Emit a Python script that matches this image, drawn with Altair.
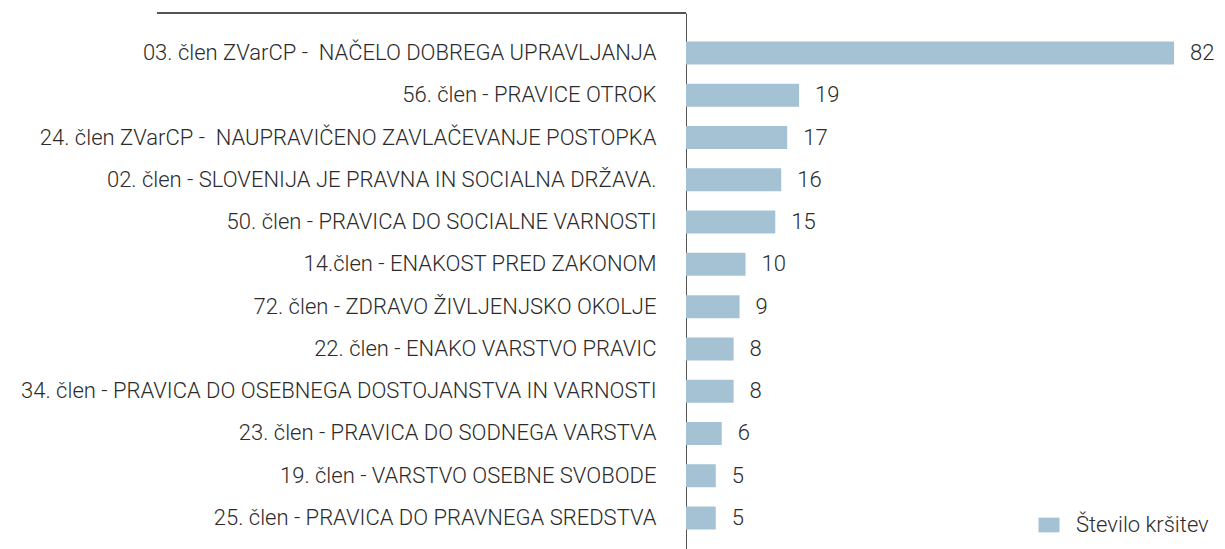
import altair as alt
import pandas as pd

categories = [
    "03. člen ZVarCP - \u00a0NAČELO DOBREGA UPRAVLJANJA",
    "56. člen - PRAVICE OTROK",
    "24. člen ZVarCP - \u00a0NAUPRAVIČENO ZAVLAČEVANJE POSTOPKA",
    "02. člen - SLOVENIJA JE PRAVNA IN SOCIALNA DRŽAVA.",
    "50. člen - PRAVICA DO SOCIALNE VARNOSTI",
    "14.člen - ENAKOST PRED ZAKONOM",
    "72. člen - ZDRAVO ŽIVLJENJSKO OKOLJE",
    "22. člen - ENAKO VARSTVO PRAVIC",
    "34. člen - PRAVICA DO OSEBNEGA DOSTOJANSTVA IN VARNOSTI",
    "23. člen - PRAVICA DO SODNEGA VARSTVA",
    "19. člen - VARSTVO OSEBNE SVOBODE",
    "25. člen - PRAVICA DO PRAVNEGA SREDSTVA",
]
values = [82, 19, 17, 16, 15, 10, 9, 8, 8, 6, 5, 5]
series_name = "Število kršitev"

df = pd.DataFrame({"label": categories, "value": values, "series": series_name})

FONT = "Roboto"
FS = 22
FW = 300
BAR = "#a4c2d3"
TXT = "#2b2b2b"
LINE = "#555555"

y_enc = alt.Y(
    "label:N",
    sort=None,
    scale=alt.Scale(paddingInner=0.456, paddingOuter=0.674),
    axis=alt.Axis(
        title=None, ticks=False, domain=True, domainColor=LINE, domainWidth=1,
        labelFontSize=FS, labelFont=FONT, labelFontWeight=FW, labelColor=TXT,
        labelPadding=30, labelLimit=1000, grid=False,
    ),
)
x_enc = alt.X("value:Q", scale=alt.Scale(domain=[0, 84], nice=False), axis=None)

bars = alt.Chart(df).mark_bar().encode(
    y=y_enc,
    x=x_enc,
    color=alt.Color(
        "series:N",
        scale=alt.Scale(range=[BAR]),
        legend=alt.Legend(
            title=None, orient="none", legendX=352, legendY=501,
            symbolType="M-1,-0.7L1,-0.7L1,0.7L-1,0.7Z", symbolSize=441,
            symbolStrokeWidth=0, labelFontSize=FS, labelFont=FONT,
            labelFontWeight=FW, labelColor=TXT, labelOffset=16,
        ),
    ),
)

text = alt.Chart(df).mark_text(
    align="left", baseline="middle", dx=16, fontSize=FS, font=FONT,
    fontWeight=FW, color=TXT
).encode(y=alt.Y("label:N", sort=None), x="value:Q", text="value:Q")

top_line = alt.Chart(df).mark_rule(color=LINE, strokeWidth=1).encode(
    x=alt.value(-529), x2=alt.value(0), y=alt.value(0)
)

chart = alt.layer(bars, text, top_line).properties(
    width=500, height=545,
    padding={"left": 686, "top": 13, "right": 39, "bottom": 0},
    autosize=alt.AutoSizeParams(type="none"),
).configure_view(stroke=None)

chart.save("out.html", embed_options={"renderer": "svg", "actions": False})
